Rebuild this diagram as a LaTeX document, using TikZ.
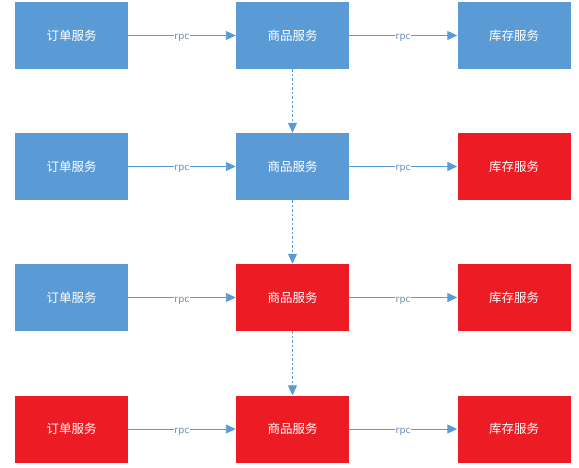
\documentclass[tikz,border=0pt]{standalone}
\usepackage{fontspec}
\newfontfamily\cjk{Noto Sans CJK SC}
\setmainfont{DejaVu Sans}
\usetikzlibrary{arrows.meta}
\definecolor{boxblue}{HTML}{5B9BD5}
\definecolor{boxred}{HTML}{ED1C24}
\definecolor{linkblue}{HTML}{5B9BD5}
\definecolor{lbl}{HTML}{6A8DB5}
\tikzset{
  svc/.style={rectangle, minimum width=113pt, minimum height=67pt, inner sep=0pt, text=white, font=\cjk\fontsize{12.5}{14}\selectfont},
  bluebox/.style={svc, fill=boxblue},
  redbox/.style={svc, fill=boxred},
  rpcarrow/.style={draw=linkblue, line width=0.9pt, -{Triangle[width=9pt,length=10pt]}},
  dasharrow/.style={draw=linkblue, line width=0.9pt, dashed, dash pattern=on 2.5pt off 2pt, -{Triangle[width=9pt,length=10pt]}},
  rpclabel/.style={fill=white, inner sep=0.5pt, text=lbl, font=\fontsize{9.5}{10}\selectfont, text height=5pt, text depth=0pt, yshift=-2pt}
}
\begin{document}
\begin{tikzpicture}[x=1pt,y=-1pt]
\useasboundingbox (0,0) rectangle (579,468);
\node[bluebox] (a1) at (71.5,35.5) {订单服务};
\node[bluebox] (b1) at (292.5,35.5) {商品服务};
\node[bluebox] (c1) at (514,35.5) {库存服务};
\node[bluebox] (a2) at (71.5,166.5) {订单服务};
\node[bluebox] (b2) at (292.5,166.5) {商品服务};
\node[redbox] (c2) at (514,166.5) {库存服务};
\node[bluebox] (a3) at (71.5,297.5) {订单服务};
\node[redbox] (b3) at (292.5,297.5) {商品服务};
\node[redbox] (c3) at (514,297.5) {库存服务};
\node[redbox] (a4) at (71.5,429) {订单服务};
\node[redbox] (b4) at (292.5,429) {商品服务};
\node[redbox] (c4) at (514,429) {库存服务};
\foreach \r in {1,2,3,4}{
  \draw[rpcarrow] (a\r) -- node[rpclabel]{rpc} (b\r);
  \draw[rpcarrow] (b\r) -- node[rpclabel]{rpc} (c\r);
}
\draw[dasharrow] (b1) -- (b2);
\draw[dasharrow] (b2) -- (b3);
\draw[dasharrow] (b3) -- (b4);
\end{tikzpicture}
\end{document}
